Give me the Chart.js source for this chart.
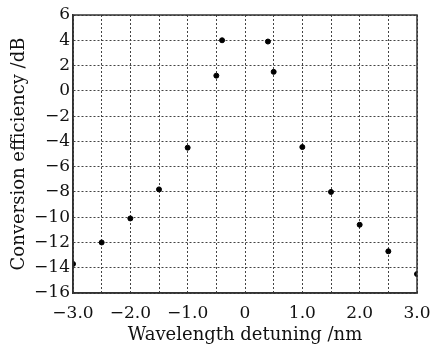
<!DOCTYPE html>
<html lang="en">
<head>
    <meta charset="UTF-8">
    <title>Conversion efficiency vs wavelength detuning</title>
    <script src="https://cdn.jsdelivr.net/npm/chart.js"></script>
    <style>
        html, body { margin: 0; padding: 0; background: #fff; }
        #wrap { width: 445px; height: 346px; }
    </style>
</head>
<body>
<div id="wrap"><canvas id="myChart"></canvas></div>
<script>
    // wavelength detuning (nm) and conversion efficiency (dB)
    const detuning = [-3.0, -2.5, -2.0, -1.5, -1.0, -0.5, -0.4, 0.4, 0.5, 1.0, 1.5, 2.0, 2.5, 3.0];
    const efficiency = [-13.7, -12.0, -10.1, -7.8, -4.5, 1.2, 4.0, 3.9, 1.5, -4.45, -8.0, -10.6, -12.7, -14.5];

    const xTickLabels = { '-3': '\u22123.0', '-2': '\u22122.0', '-1': '\u22121.0', '0': '0', '1': '1.0', '2': '2.0', '3': '3.0' };

    const serif = "'DejaVu Serif', 'Liberation Serif', serif";
    const gridColor = '#444';

    const points = detuning.map((x, i) => ({ x: x, y: efficiency[i] }));

    new Chart(document.getElementById('myChart'), {
        type: 'scatter',
        data: {
            datasets: [{
                data: points,
                backgroundColor: '#000',
                borderColor: '#000',
                pointRadius: 2.5,
                pointHoverRadius: 2.5
            }]
        },
        options: {
            responsive: true,
            maintainAspectRatio: false,
            animation: false,
            layout: { padding: { left: 0, right: 28, top: 15, bottom: 0 } },
            plugins: { legend: { display: false }, tooltip: { enabled: false } },
            scales: {
                x: {
                    min: -3, max: 3,
                    ticks: {
                        stepSize: 0.5,
                        autoSkip: false,
                        maxRotation: 0,
                        color: '#111',
                        font: { family: serif, size: 17 },
                        padding: 10,
                        callback: v => xTickLabels[String(v)] ?? ''
                    },
                    grid: { color: gridColor, lineWidth: 1, drawTicks: false },
                    border: { display: true, color: '#333', width: 1.5, dash: [2, 2] },
                    title: {
                        display: true,
                        text: 'Wavelength detuning /nm',
                        color: '#111',
                        font: { family: serif, size: 18 },
                        padding: { top: 0, bottom: 0 }
                    },
                    afterFit: s => { s.height = 53; }
                },
                y: {
                    min: -16, max: 6,
                    ticks: {
                        stepSize: 2,
                        color: '#111',
                        font: { family: serif, size: 17 },
                        padding: 3,
                        callback: v => (v < 0 ? '\u2212' + Math.abs(v) : String(v))
                    },
                    grid: { color: gridColor, lineWidth: 1, drawTicks: false },
                    border: { display: true, color: '#333', width: 1.5, dash: [2, 2] },
                    title: {
                        display: true,
                        text: 'Conversion efficiency /dB',
                        color: '#111',
                        font: { family: serif, size: 18 },
                        padding: { top: 9, bottom: 0 }
                    },
                    afterFit: s => { s.width = 73; }
                }
            }
        },
        plugins: [{
            id: 'frame',
            beforeDraw(chart) {
                const c = chart.ctx;
                c.save();
                c.fillStyle = '#fff';
                c.fillRect(0, 0, chart.width, chart.height);
                c.restore();
            },
            afterDatasetsDraw(chart) {
                // solid frame around the plot area
                const a = chart.chartArea, c = chart.ctx;
                c.save();
                c.strokeStyle = '#333';
                c.lineWidth = 1.5;
                c.setLineDash([]);
                c.strokeRect(a.left, a.top, a.right - a.left, a.bottom - a.top);
                c.restore();
            }
        }]
    });
</script>
</body>
</html>
